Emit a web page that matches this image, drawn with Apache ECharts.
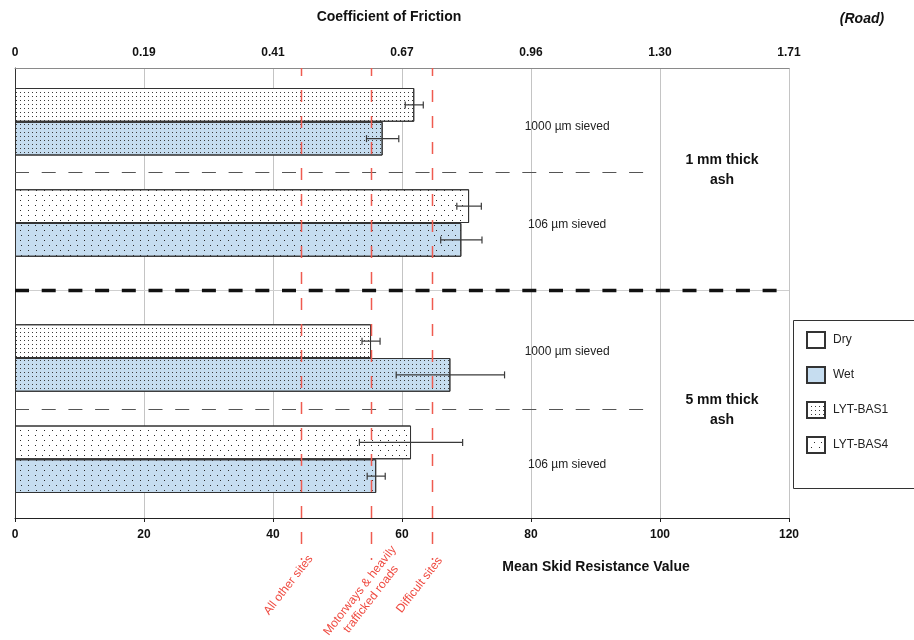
<!DOCTYPE html>
<html><head><meta charset="utf-8">
<script src="https://cdn.jsdelivr.net/npm/echarts@6/dist/echarts.min.js"></script>
<style>html,body{margin:0;padding:0;background:#fff}#c{width:914px;height:640px}</style>
</head><body><div id="c"></div>
<script>
// ---- data ----
const subgroups = ['1 mm · 1000 µm', '1 mm · 106 µm', '5 mm · 1000 µm', '5 mm · 106 µm'];
const sieveLabels = ['1000 µm sieved', '106 µm sieved', '1000 µm sieved', '106 µm sieved'];
const thicknessLabels = ['1 mm thick\nash', '5 mm thick\nash'];
const sampleOfSubgroup = ['LYT-BAS1', 'LYT-BAS4', 'LYT-BAS1', 'LYT-BAS4'];
const dryMSRV = [61.9, 70.4, 55.2, 61.4];
const dryErr  = [1.4, 1.9, 1.4, 8.0];
const wetMSRV = [57.0, 69.2, 67.5, 56.0];
const wetErr  = [2.5, 3.2, 8.4, 1.4];
const msrvTicks = [0, 20, 40, 60, 80, 100, 120];
const frictionTicks = ['0', '0.19', '0.41', '0.67', '0.96', '1.30', '1.71'];
const thresholdValues = [44.4, 55.2, 64.7];
const thresholdNames = ['All other sites', 'Motorways & heavily\ntrafficked roads', 'Difficult sites'];
const legendNames = ['Dry', 'Wet', 'LYT-BAS1', 'LYT-BAS4'];

// ---- build category rows ----
const FONT = "'Liberation Sans', Arial, sans-serif";
const DRY_COLOR = '#ffffff', WET_COLOR = '#c6ddf0', EDGE = '#333333';
const gapsAfter = [['sep-a'], ['sep-b1', 'sep-b2'], ['sep-c'], []];
const categories = [];
subgroups.forEach((g, i) => {
  categories.push(g + ' Dry', g + ' Wet');
  gapsAfter[i].forEach(s => categories.push(s));
});
function seriesData(sample) {
  const arr = categories.map(() => null);
  subgroups.forEach((g, i) => {
    if (sampleOfSubgroup[i] !== sample) return;
    arr[categories.indexOf(g + ' Dry')] = { value: dryMSRV[i], itemStyle: { color: DRY_COLOR } };
    arr[categories.indexOf(g + ' Wet')] = { value: wetMSRV[i], itemStyle: { color: WET_COLOR } };
  });
  return arr;
}
const errData = [];
subgroups.forEach((g, i) => {
  errData.push([dryMSRV[i] - dryErr[i], dryMSRV[i] + dryErr[i], categories.indexOf(g + ' Dry')]);
  errData.push([wetMSRV[i] - wetErr[i], wetMSRV[i] + wetErr[i], categories.indexOf(g + ' Wet')]);
});

const denseDecal = { symbol: 'rect', symbolSize: 1, dashArrayX: [1, 3], dashArrayY: [1, 3], color: '#3c3c3c', rotation: 0 };
const sparseDecal = { symbol: 'rect', symbolSize: 1, dashArrayX: [[1, 6], [0, 3.5, 1, 2.5]], dashArrayY: [1, 4], color: '#2a2a2a', rotation: 0 };

const barCommon = { type: 'bar', xAxisIndex: 2, yAxisIndex: 1, barWidth: '100%', barGap: '-100%', silent: true };

const chart = echarts.init(document.getElementById('c'), null, { renderer: 'canvas' });
chart.setOption({
  animation: false,
  backgroundColor: '#fff',
  textStyle: { fontFamily: FONT },
  grid: [
    { left: 15, right: 125, top: 68, bottom: 122 },
    { left: 15, right: 125, top: 88, bottom: 147 }
  ],
  xAxis: [
    { gridIndex: 0, type: 'value', position: 'bottom', min: 0, max: 120, interval: 20,
      axisLine: { show: true, lineStyle: { color: '#222', width: 1 } },
      axisTick: { show: true, length: 4, lineStyle: { color: '#222' } },
      axisLabel: { margin: 11, fontWeight: 'bold', fontSize: 12, color: '#111', fontFamily: FONT },
      splitLine: { show: true, lineStyle: { color: '#c4c4c4', width: 1 } } },
    { gridIndex: 0, type: 'value', position: 'top', min: 0, max: 120, interval: 20,
      axisLine: { show: true, lineStyle: { color: '#8a8a8a', width: 1 } },
      axisTick: { show: false },
      axisLabel: { margin: 9, fontWeight: 'bold', fontSize: 12, color: '#111', fontFamily: FONT,
        formatter: v => frictionTicks[msrvTicks.indexOf(v)] },
      splitLine: { show: false } },
    { gridIndex: 1, type: 'value', min: 0, max: 120, show: false }
  ],
  yAxis: [
    { gridIndex: 0, type: 'value', min: 0, max: 1, axisLine: { show: true, onZero: false, lineStyle: { color: '#333' } },
      axisTick: { show: false }, axisLabel: { show: false }, splitLine: { show: false } },
    { gridIndex: 1, type: 'category', data: categories, inverse: true, show: false }
  ],
  legend: {
    data: legendNames, orient: 'vertical', left: 806, top: 331, icon: 'rect',
    itemWidth: 18, itemHeight: 16, itemGap: 17, selectedMode: false, padding: 0,
    textStyle: { fontSize: 12, color: '#222', fontFamily: FONT, padding: [0, 0, 0, 3] }
  },
  series: [
    Object.assign({}, barCommon, { name: 'Dry', data: [], itemStyle: { color: DRY_COLOR, borderColor: EDGE, borderWidth: 1 } }),
    Object.assign({}, barCommon, { name: 'Wet', data: [], itemStyle: { color: WET_COLOR, borderColor: EDGE, borderWidth: 1 } }),
    Object.assign({}, barCommon, { name: 'LYT-BAS1', data: seriesData('LYT-BAS1'),
      itemStyle: { color: DRY_COLOR, borderColor: EDGE, borderWidth: 1, decal: denseDecal } }),
    Object.assign({}, barCommon, { name: 'LYT-BAS4', data: seriesData('LYT-BAS4'),
      itemStyle: { color: DRY_COLOR, borderColor: EDGE, borderWidth: 1, decal: sparseDecal } }),
    { type: 'custom', name: 'error', xAxisIndex: 2, yAxisIndex: 1, z: 5, silent: true,
      encode: { x: [0, 1], y: 2 }, data: errData,
      renderItem: function (params, api) {
        const y = api.value(2);
        const a = api.coord([api.value(0), y]);
        const b = api.coord([api.value(1), y]);
        const h = 3.5;
        const st = { stroke: '#3a3a3a', lineWidth: 1.2 };
        return { type: 'group', children: [
          { type: 'line', shape: { x1: a[0], y1: a[1], x2: b[0], y2: b[1] }, style: st },
          { type: 'line', shape: { x1: a[0], y1: a[1] - h, x2: a[0], y2: a[1] + h }, style: st },
          { type: 'line', shape: { x1: b[0], y1: b[1] - h, x2: b[0], y2: b[1] + h }, style: st }
        ] };
      } }
  ]
});

// ---- annotations placed through the axes ----
const px = v => chart.convertToPixel({ xAxisIndex: 0 }, v);
const py = c => chart.convertToPixel({ yAxisIndex: 1 }, c);
const g = [];
const x0 = px(0), x120 = px(120);
// separators
['sep-a', 'sep-c'].forEach(s => {
  const y = Math.round(py(s)) + 0.5;
  g.push({ type: 'line', z: 3, shape: { x1: x0, y1: y, x2: px(97.7), y2: y },
    style: { stroke: '#555', lineWidth: 1.2, lineDash: [14, 12.7] } });
});
{
  const y = (py('sep-b1') + py('sep-b2')) / 2;
  g.push({ type: 'line', z: 3, shape: { x1: x0, y1: y, x2: x120, y2: y }, style: { stroke: '#cfcfcf', lineWidth: 1 } });
  g.push({ type: 'line', z: 3, shape: { x1: x0, y1: y, x2: x120, y2: y },
    style: { stroke: '#111', lineWidth: 3.5, lineDash: [14, 12.7] } });
}
// thresholds
thresholdValues.forEach((v, i) => {
  const x = Math.round(px(v)) + 0.5;
  g.push({ type: 'line', z: 10, shape: { x1: x, y1: 68, x2: x, y2: 560 },
    style: { stroke: '#ef5b50', lineWidth: 1.5, lineDash: [12, 14], lineDashOffset: 4 } });
  g.push({ type: 'text', z: 10, x: x - (i === 1 ? 6 : 13), y: i === 1 ? 595 : 585, rotation: 52 * Math.PI / 180,
    style: { text: thresholdNames[i], fill: '#ef4a40', fontSize: 12, fontFamily: FONT, lineHeight: 14,
      align: 'center', verticalAlign: 'middle' } });
});
// sieve labels
const sieveY = [127, 225, 352, 465];
sieveLabels.forEach((t, i) => {
  g.push({ type: 'text', z: 10, x: px(85.6), y: sieveY[i],
    style: { text: t, fill: '#222', fontSize: 12, fontFamily: FONT, align: 'center', verticalAlign: 'middle' } });
});
// thickness labels
const thickY = [170, 410.5];
thicknessLabels.forEach((t, i) => {
  g.push({ type: 'text', z: 10, x: 722, y: thickY[i],
    style: { text: t, fill: '#111', fontSize: 14, fontWeight: 'bold', fontFamily: FONT, lineHeight: 20,
      align: 'center', verticalAlign: 'middle' } });
});
// titles
g.push({ type: 'text', x: 389, y: 17, style: { text: 'Coefficient of Friction', fill: '#111', fontSize: 14, fontWeight: 'bold', fontFamily: FONT, align: 'center', verticalAlign: 'middle' } });
g.push({ type: 'text', x: 862, y: 19, style: { text: '(Road)', fill: '#111', fontSize: 14, fontWeight: 'bold', fontStyle: 'italic', fontFamily: FONT, align: 'center', verticalAlign: 'middle' } });
g.push({ type: 'text', x: 596, y: 567, style: { text: 'Mean Skid Resistance Value', fill: '#111', fontSize: 14, fontWeight: 'bold', fontFamily: FONT, align: 'center', verticalAlign: 'middle' } });
// legend frame
g.push({ type: 'rect', z: 1, shape: { x: 793.5, y: 320.5, width: 140, height: 168 }, style: { fill: '#fff', stroke: '#333', lineWidth: 1 } });
chart.setOption({ graphic: g });
</script>
</body></html>
